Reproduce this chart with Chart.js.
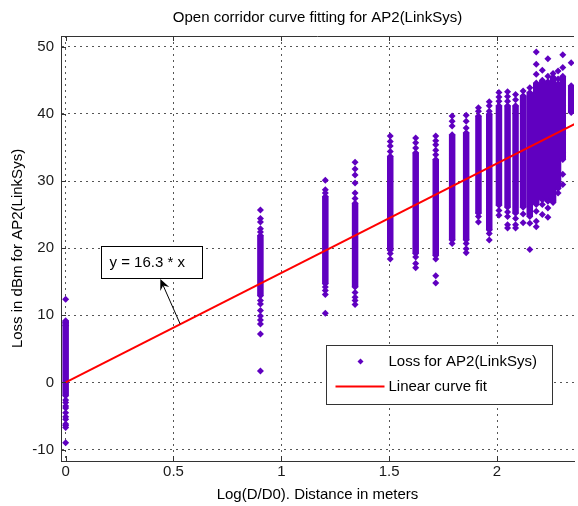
<!DOCTYPE html>
<html>
<head>
<meta charset="utf-8">
<title>Open corridor curve fitting for AP2(LinkSys)</title>
<script src="https://cdn.jsdelivr.net/npm/chart.js@4"></script>
<style>
  html, body { margin: 0; padding: 0; background: #fff; overflow: hidden; }
  #wrap { width: 578px; height: 506px; }
</style>
</head>
<body>
<div id="wrap"><canvas id="lossChart"></canvas></div>
<script>
// log10(D/D0) of every measuring spot along the corridor
const logDist = [0, 0.903, 1.204, 1.342, 1.505, 1.623, 1.716, 1.792, 1.857, 1.914, 1.964,
    2.009, 2.049, 2.086, 2.121, 2.152, 2.182, 2.210, 2.236, 2.260, 2.283, 2.305, 2.344];

// range where the readings pile up into a solid bar (dBm)
const denseLow  = [-2.0, 12.9, 14.7, 14.2, 19.7, 19.2, 18.9, 21.2, 21.2, 25.2, 22.7,
    26.4, 26.1, 25.2, 26.1, 24.7, 26.5, 27.2, 27.0, 27.0, 28.9, 33.2, 40.2];
const denseHigh = [9.2, 21.9, 27.7, 26.7, 33.7, 34.2, 33.2, 36.9, 37.2, 39.7, 40.0,
    41.2, 41.2, 41.2, 42.7, 43.2, 44.6, 45.0, 44.8, 45.5, 44.5, 45.6, 44.2];

// the loose readings above / below each bar
const looseLoss = [
    [12.4, 8.9, 8.5, -2.6, -3.0, -3.5, -3.8, -4.5, -5.1, -5.5, -6.2, -6.4, -6.7, -9.0],
    [25.7, 24.4, 23.9, 22.9, 22.4, 12.2, 11.7, 10.7, 9.9, 9.3, 8.7, 7.2, 1.7],
    [30.1, 28.7, 28.2, 14.2, 13.7, 13.1, 10.3],
    [32.8, 31.8, 30.9, 29.7, 28.2, 27.4, 13.4, 12.7, 12.2, 11.6],
    [36.7, 35.9, 35.2, 34.4, 19.2, 18.4],
    [36.4, 35.7, 34.9, 18.7, 17.7, 17.1],
    [36.7, 36.0, 35.4, 34.6, 33.9, 18.4, 15.9, 14.8],
    [39.7, 38.9, 38.2, 20.7],
    [39.8, 38.9, 37.9, 20.7, 19.9, 19.3],
    [40.9, 40.4, 24.7, 23.9],
    [41.8, 41.2, 40.4, 22.2, 21.2],
    [43.2, 42.5, 41.9, 25.6, 24.9],
    [43.3, 42.6, 41.9, 25.4, 24.7, 23.5, 23.0],
    [42.9, 42.1, 24.4, 23.5, 23.0],
    [43.4, 25.1, 23.8],
    [43.9, 23.7, 19.8],
    [49.2, 47.4, 45.9, 25.5, 24.0, 23.2],
    [46.5, 26.5, 25.0],
    [48.2, 45.6, 26.0, 24.6],
    [46.0, 26.8],
    [46.4, 45.2, 28.2],
    [48.8, 46.9, 31.0, 29.5],
    [47.6]
];

// linear fit y = 16.3 * x, end points
const fitX = [0, 2.36];
const fitY = [0, 38.5];

const xTicks = [0, 0.5, 1, 1.5, 2];
const yTicks = [-10, 0, 10, 20, 30, 40, 50];

const noteText = 'y = 16.3 * x';
const legendLabels = ['Loss for AP2(LinkSys)', 'Linear curve fit'];

const PURPLE = '#6000c0';
const AXIS = '#333333';
const FONT = "'Liberation Sans', Arial, sans-serif";

// build the datasets from the arrays above
const barData = [];
const pointData = [];
logDist.forEach((x, i) => {
    barData.push({ x: x, y: denseLow[i] }, { x: x, y: denseHigh[i] }, { x: x, y: null });
    pointData.push({ x: x, y: denseLow[i] }, { x: x, y: denseHigh[i] });
    looseLoss[i].forEach(v => pointData.push({ x: x, y: v }));
});
const fitData = fitX.map((x, i) => ({ x: x, y: fitY[i] }));

function diamond(ctx, x, y, r) {
    ctx.beginPath();
    ctx.moveTo(x - r, y);
    ctx.lineTo(x, y - r);
    ctx.lineTo(x + r, y);
    ctx.lineTo(x, y + r);
    ctx.closePath();
    ctx.fill();
}

// matlab look: top border, inner ticks, text arrow and the legend box
const matlabDecor = {
    id: 'matlabDecor',
    afterDraw(chart) {
        const { ctx, chartArea: a, scales: { x, y } } = chart;
        ctx.save();
        ctx.strokeStyle = AXIS;
        ctx.lineWidth = 1;

        ctx.beginPath();
        ctx.moveTo(a.left, a.top + 0.5);
        ctx.lineTo(a.right, a.top + 0.5);
        ctx.stroke();

        ctx.beginPath();
        xTicks.forEach(v => {
            const px = Math.round(x.getPixelForValue(v)) + 0.5;
            ctx.moveTo(px, a.bottom); ctx.lineTo(px, a.bottom - 5);
            ctx.moveTo(px, a.top); ctx.lineTo(px, a.top + 5);
        });
        yTicks.forEach(v => {
            const py = Math.round(y.getPixelForValue(v)) + 0.5;
            ctx.moveTo(a.left, py); ctx.lineTo(a.left + 5, py);
        });
        ctx.stroke();

        // annotation text box
        const bx0 = Math.round(x.getPixelForValue(0.162)) + 0.5;
        const bx1 = Math.round(x.getPixelForValue(0.633)) + 0.5;
        const by0 = Math.round(y.getPixelForValue(20.3)) + 0.5;
        const by1 = Math.round(y.getPixelForValue(15.5)) + 0.5;
        ctx.fillStyle = '#fff';
        ctx.fillRect(bx0, by0, bx1 - bx0, by1 - by0);
        ctx.strokeStyle = '#000';
        ctx.strokeRect(bx0, by0, bx1 - bx0, by1 - by0);
        ctx.fillStyle = '#000';
        ctx.font = '15px ' + FONT;
        ctx.textBaseline = 'middle';
        ctx.textAlign = 'left';
        ctx.fillText(noteText, bx0 + 8, (by0 + by1) / 2);

        // arrow from the fitted line up to the box
        const ax0 = x.getPixelForValue(0.531), ay0 = y.getPixelForValue(8.7);
        const ax1 = x.getPixelForValue(0.439), ay1 = y.getPixelForValue(15.4);
        const ang = Math.atan2(ay1 - ay0, ax1 - ax0);
        ctx.beginPath();
        ctx.moveTo(ax0, ay0);
        ctx.lineTo(ax1 - 6 * Math.cos(ang), ay1 - 6 * Math.sin(ang));
        ctx.stroke();
        ctx.beginPath();
        ctx.moveTo(ax1, ay1);
        ctx.lineTo(ax1 - 12 * Math.cos(ang - 0.42), ay1 - 12 * Math.sin(ang - 0.42));
        ctx.lineTo(ax1 - 7 * Math.cos(ang), ay1 - 7 * Math.sin(ang));
        ctx.lineTo(ax1 - 12 * Math.cos(ang + 0.42), ay1 - 12 * Math.sin(ang + 0.42));
        ctx.closePath();
        ctx.fill();

        // legend
        const lx = a.right - 247.5, ly = a.bottom - 115.5;
        ctx.fillStyle = '#fff';
        ctx.fillRect(lx, ly, 226, 59);
        ctx.strokeStyle = AXIS;
        ctx.strokeRect(lx, ly, 226, 59);
        ctx.fillStyle = PURPLE;
        diamond(ctx, lx + 34, ly + 16, 3);
        ctx.strokeStyle = '#ff0000';
        ctx.lineWidth = 2;
        ctx.beginPath();
        ctx.moveTo(lx + 9, ly + 41);
        ctx.lineTo(lx + 58, ly + 41);
        ctx.stroke();
        ctx.fillStyle = '#000';
        ctx.fillText(legendLabels[0], lx + 62, ly + 16);
        ctx.fillText(legendLabels[1], lx + 62, ly + 41);
        ctx.restore();
    }
};

Chart.defaults.font.family = FONT;
Chart.defaults.font.size = 15;
Chart.defaults.color = '#1a1a1a';

new Chart(document.getElementById('lossChart'), {
    type: 'scatter',
    data: {
        datasets: [
            {
                label: legendLabels[1],
                data: fitData,
                showLine: true,
                borderColor: '#ff0000',
                borderWidth: 2,
                pointRadius: 0,
                order: 0
            },
            {
                label: legendLabels[0],
                data: pointData,
                pointStyle: 'rectRot',
                pointRadius: 3.5,
                pointBorderWidth: 0,
                backgroundColor: PURPLE,
                borderColor: PURPLE,
                order: 1
            },
            {
                label: 'dense',
                data: barData,
                showLine: true,
                spanGaps: false,
                borderColor: PURPLE,
                borderWidth: 6.5,
                borderCapStyle: 'butt',
                pointRadius: 0,
                order: 2
            }
        ]
    },
    options: {
        responsive: true,
        maintainAspectRatio: false,
        animation: false,
        layout: { padding: { left: 0, right: 0, top: 0, bottom: 0 } },
        plugins: {
            legend: { display: false },
            tooltip: { enabled: false },
            title: {
                display: true,
                text: 'Open corridor curve fitting for AP2(LinkSys)',
                fullSize: false,
                color: '#000',
                font: { size: 15, weight: 'normal' },
                padding: { top: 9, bottom: 9 }
            }
        },
        scales: {
            x: {
                type: 'linear',
                min: -0.0216,
                max: 2.357,
                afterBuildTicks: s => { s.ticks = xTicks.map(v => ({ value: v })); },
                afterFit: s => { s.height = 45; },
                ticks: { padding: 2, color: '#1a1a1a', includeBounds: false, callback: v => String(v) },
                grid: { color: '#555', lineWidth: 1, drawTicks: false },
                border: { color: AXIS, width: 1, dash: [2, 4] },
                title: {
                    display: true,
                    text: 'Log(D/D0). Distance in meters',
                    color: '#000',
                    padding: { top: 0, bottom: 2 }
                }
            },
            y: {
                min: -11.7,
                max: 51.6,
                afterBuildTicks: s => { s.ticks = yTicks.map(v => ({ value: v })); },
                afterFit: s => { s.width = 61; },
                ticks: { padding: 7, color: '#1a1a1a', includeBounds: false, callback: v => String(v) },
                grid: { color: '#555', lineWidth: 1, drawTicks: false },
                border: { color: AXIS, width: 1, dash: [2, 4] },
                title: {
                    display: true,
                    text: 'Loss in dBm for AP2(LinkSys)',
                    color: '#000',
                    padding: { top: 8.5, bottom: 0 }
                }
            }
        }
    },
    plugins: [matlabDecor]
});
</script>
</body>
</html>
